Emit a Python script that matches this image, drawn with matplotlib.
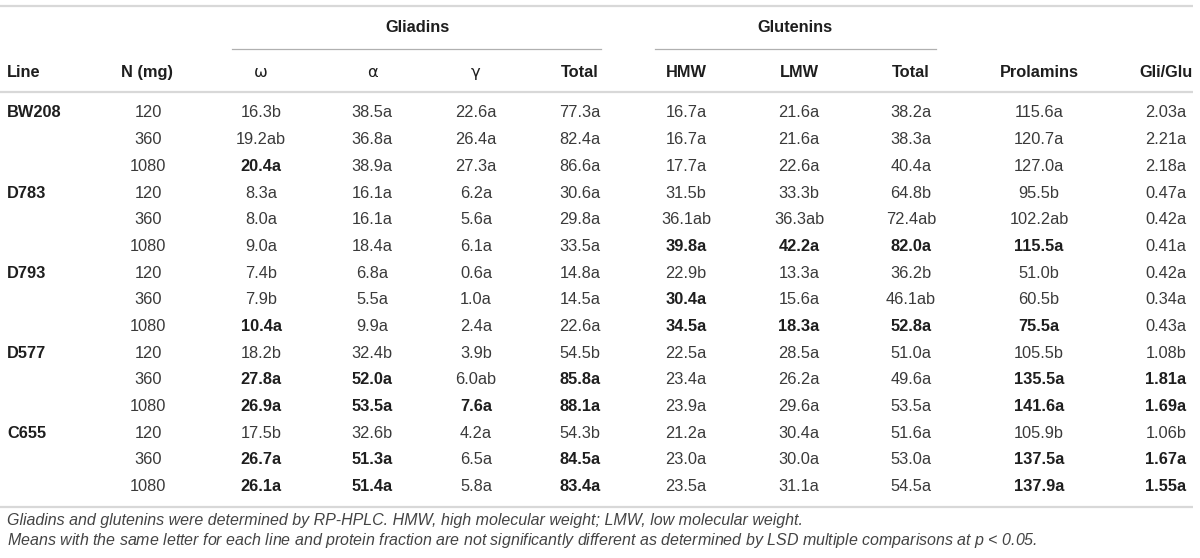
import matplotlib
matplotlib.use('Agg')
import matplotlib.pyplot as plt

# table content
lines = ['BW208', 'D783', 'D793', 'D577', 'C655']
n_mg = ['120', '360', '1080'] * 5

omega = ['16.3b', '19.2ab', '20.4a', '8.3a', '8.0a', '9.0a', '7.4b', '7.9b', '10.4a',
         '18.2b', '27.8a', '26.9a', '17.5b', '26.7a', '26.1a']
alpha = ['38.5a', '36.8a', '38.9a', '16.1a', '16.1a', '18.4a', '6.8a', '5.5a', '9.9a',
         '32.4b', '52.0a', '53.5a', '32.6b', '51.3a', '51.4a']
gamma = ['22.6a', '26.4a', '27.3a', '6.2a', '5.6a', '6.1a', '0.6a', '1.0a', '2.4a',
         '3.9b', '6.0ab', '7.6a', '4.2a', '6.5a', '5.8a']
gli_total = ['77.3a', '82.4a', '86.6a', '30.6a', '29.8a', '33.5a', '14.8a', '14.5a', '22.6a',
             '54.5b', '85.8a', '88.1a', '54.3b', '84.5a', '83.4a']
hmw = ['16.7a', '16.7a', '17.7a', '31.5b', '36.1ab', '39.8a', '22.9b', '30.4a', '34.5a',
       '22.5a', '23.4a', '23.9a', '21.2a', '23.0a', '23.5a']
lmw = ['21.6a', '21.6a', '22.6a', '33.3b', '36.3ab', '42.2a', '13.3a', '15.6a', '18.3a',
       '28.5a', '26.2a', '29.6a', '30.4a', '30.0a', '31.1a']
glu_total = ['38.2a', '38.3a', '40.4a', '64.8b', '72.4ab', '82.0a', '36.2b', '46.1ab', '52.8a',
             '51.0a', '49.6a', '53.5a', '51.6a', '53.0a', '54.5a']
prolamins = ['115.6a', '120.7a', '127.0a', '95.5b', '102.2ab', '115.5a', '51.0b', '60.5b', '75.5a',
             '105.5b', '135.5a', '141.6a', '105.9b', '137.5a', '137.9a']
gli_glu = ['2.03a', '2.21a', '2.18a', '0.47a', '0.42a', '0.41a', '0.42a', '0.34a', '0.43a',
           '1.08b', '1.81a', '1.69a', '1.06b', '1.67a', '1.55a']

col_headers = ['\u03c9', '\u03b1', '\u03b3', 'Total', 'HMW', 'LMW', 'Total', 'Prolamins', 'Gli/Glu']

# which cells are printed bold (row, column index into value_cols)
bold_cells = {(2, 0),
              (5, 4), (5, 5), (5, 6), (5, 7),
              (7, 4), (8, 0), (8, 4), (8, 5), (8, 6), (8, 7),
              (10, 0), (10, 1), (10, 3), (10, 7), (10, 8),
              (11, 0), (11, 1), (11, 2), (11, 3), (11, 7), (11, 8),
              (13, 0), (13, 1), (13, 3), (13, 7), (13, 8),
              (14, 0), (14, 1), (14, 3), (14, 7), (14, 8)}

footnotes = ['Gliadins and glutenins were determined by RP-HPLC. HMW, high molecular weight; LMW, low molecular weight.',
             'Means with the same letter for each line and protein fraction are not significantly different as determined by LSD multiple comparisons at $p$ < 0.05.']

value_cols = [omega, alpha, gamma, gli_total, hmw, lmw, glu_total, prolamins, gli_glu]

# layout (pixels)
W, H = 1200, 558
col_x = [261, 372, 476, 580, 686, 799, 911, 1039, 1166]
row_y0, row_dy = 112.9, 26.7
fs = 11.8
txt_c = '#3a3a3a'
bold_c = '#1e1e1e'
rule_c = '#d8d8d8'

plt.rcParams['font.family'] = ['Liberation Sans', 'DejaVu Sans']
plt.rcParams['mathtext.fontset'] = 'custom'
plt.rcParams['mathtext.it'] = 'Liberation Sans:italic'

fig = plt.figure(figsize=(W / 100, H / 100), dpi=100)
ax = fig.add_axes([0, 0, 1, 1])
ax.set_xlim(0, W)
ax.set_ylim(H, 0)
ax.axis('off')

# rules
for y in (6, 91.6, 506.7):
    ax.plot([0, 1193], [y, y], color=rule_c, lw=1.6, solid_capstyle='butt')
ax.plot([232, 601], [49, 49], color='#b0b0b0', lw=0.9)
ax.plot([655, 936], [49, 49], color='#b0b0b0', lw=0.9)

# group headers
ax.text(417, 27, 'Gliadins', ha='center', va='center', fontsize=fs, fontweight='bold', color=bold_c)
ax.text(795, 27, 'Glutenins', ha='center', va='center', fontsize=fs, fontweight='bold', color=bold_c)

# column headers
hy = 72.7
ax.text(7, hy, 'Line', ha='left', va='center', fontsize=fs, fontweight='bold', color=bold_c)
ax.text(147, hy, 'N (mg)', ha='center', va='center', fontsize=fs, fontweight='bold', color=bold_c)
for j, lab in enumerate(col_headers):
    greek = j < 3
    ax.text(col_x[j], hy, lab, ha='center', va='center', fontsize=fs,
            fontweight='normal' if greek else 'bold', color=bold_c,
            family='DejaVu Sans' if greek else None)

# body
for i in range(len(n_mg)):
    y = row_y0 + i * row_dy
    if i % 3 == 0:
        ax.text(7, y, lines[i // 3], ha='left', va='center', fontsize=fs, fontweight='bold', color=bold_c)
    ax.text(148, y, n_mg[i], ha='center', va='center', fontsize=fs, color=txt_c)
    for j, col in enumerate(value_cols):
        b = (i, j) in bold_cells
        ax.text(col_x[j], y, col[i], ha='center', va='center', fontsize=fs,
                fontweight='bold' if b else 'normal', color=bold_c if b else txt_c)

# footnotes
for k, note in enumerate(footnotes):
    ax.text(7, 520.5 + k * 20, note, ha='left', va='center', fontsize=11.5,
            style='italic', color='#444444')

fig.savefig('out.png', dpi=100)
